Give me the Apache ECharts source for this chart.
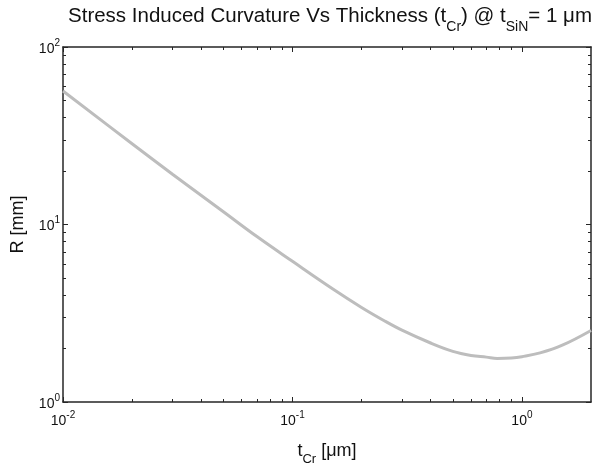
<!DOCTYPE html>
<html>
<head>
<meta charset="utf-8">
<script src="https://cdn.jsdelivr.net/npm/echarts@6/dist/echarts.min.js"></script>
<style>html,body{margin:0;padding:0;background:#fff}#c{width:595px;height:471px}</style>
</head>
<body>
<div id="c"></div>
<script>
// Data (t_Cr in µm, R in mm)
var tCr = [0.01, 0.02, 0.03, 0.05, 0.07, 0.1, 0.15, 0.2, 0.25, 0.3, 0.4, 0.5, 0.6, 0.7, 0.78, 0.9, 1.0, 1.2, 1.5, 2.0];
var R   = [56.5, 28.5, 19.2, 11.8, 8.55, 6.2, 4.33, 3.41, 2.88, 2.54, 2.15, 1.93, 1.83, 1.79, 1.76, 1.77, 1.80, 1.89, 2.09, 2.53];
var xMajor = [0.01, 0.1, 1];
var xMinor = [0.02,0.03,0.04,0.05,0.06,0.07,0.08,0.09,0.2,0.3,0.4,0.5,0.6,0.7,0.8,0.9];
var yMajor = [1, 10, 100];
var yMinor = [2,3,4,5,6,7,8,9,20,30,40,50,60,70,80,90];

var FONT = '"Liberation Sans", Arial, sans-serif';
var LC = '#262626';
var TC = '#111';
function powLabel(v){ var e = Math.round(Math.log10(v)); return '{b|10}{s|' + e + '}'; }
var labelRich = {
  b: {fontSize: 14, fontFamily: FONT, color: TC, verticalAlign: 'bottom'},
  s: {fontSize: 10, fontFamily: FONT, color: TC, verticalAlign: 'bottom', padding: [0,0,8,0]}
};

function xAx(pos, major, showLabel){
  return {
    type: 'log', logBase: 10, min: 0.01, max: 2, position: pos, gridIndex: 0,
    axisLine: {show: major, onZero: false, lineStyle: {color: LC, width: 1.5}},
    axisTick: {show: true, inside: true, length: major ? 5 : 3, customValues: major ? xMajor : xMinor, lineStyle: {color: LC, width: 1}},
    axisLabel: {show: showLabel, customValues: xMajor, formatter: powLabel, rich: labelRich, margin: 8},
    splitLine: {show: false}, minorTick: {show: false}
  };
}
function yAx(pos, major, showLabel){
  return {
    type: 'log', logBase: 10, min: 1, max: 100, position: pos, gridIndex: 0,
    axisLine: {show: major, onZero: false, lineStyle: {color: LC, width: 1.5}},
    axisTick: {show: true, inside: true, length: major ? 5 : 3, customValues: major ? yMajor : yMinor, lineStyle: {color: LC, width: 1}},
    axisLabel: {show: showLabel, customValues: yMajor, formatter: powLabel, rich: labelRich, margin: 3},
    splitLine: {show: false}, minorTick: {show: false}
  };
}

var nameRich = {
  b: {fontSize: 18, fontFamily: FONT, color: TC, verticalAlign: 'bottom', padding: [0,0,6,0]},
  s: {fontSize: 13, fontFamily: FONT, color: TC, verticalAlign: 'bottom'}
};
var xMain = xAx('bottom', true, true);
xMain.name = '{b|t}{s|Cr}{b| [μm]}';
xMain.nameLocation = 'middle';
xMain.nameGap = 40;
xMain.nameTextStyle = {rich: nameRich};
var yMain = yAx('left', true, true);
yMain.name = 'R [mm]';
yMain.nameLocation = 'middle';
yMain.nameRotate = 90;
yMain.nameGap = 36;
yMain.nameTextStyle = {fontSize: 18, fontFamily: FONT, color: TC};

var option = {
  animation: false,
  backgroundColor: '#fff',
  title: {
    text: '{b|Stress Induced Curvature Vs Thickness (t}{s|Cr}{b|) @ t}{s|SiN}{b|= 1 μm}',
    left: 325, textAlign: 'center', top: 1,
    textStyle: {fontWeight: 'normal', rich: {
      b: {fontSize: 20.5, fontFamily: FONT, color: TC, fontWeight: 'normal', verticalAlign: 'bottom', padding: [0,0,7,0]},
      s: {fontSize: 14, fontFamily: FONT, color: TC, fontWeight: 'normal', verticalAlign: 'bottom'}
    }}
  },
  grid: {left: 63, right: 4, top: 47, bottom: 57, containLabel: false},
  xAxis: [xMain, xAx('bottom', false, false), xAx('top', true, false), xAx('top', false, false)],
  yAxis: [yMain, yAx('left', false, false), yAx('right', true, false), yAx('right', false, false)],
  series: [{
    type: 'line', xAxisIndex: 0, yAxisIndex: 0,
    data: tCr.map(function(t, i){ return [t, R[i]]; }),
    smooth: 0.4, showSymbol: false,
    lineStyle: {color: '#bdbdbd', width: 3}
  }]
};
var chart = echarts.init(document.getElementById('c'), null, {renderer: 'canvas'});
chart.setOption(option);
</script>
</body>
</html>
